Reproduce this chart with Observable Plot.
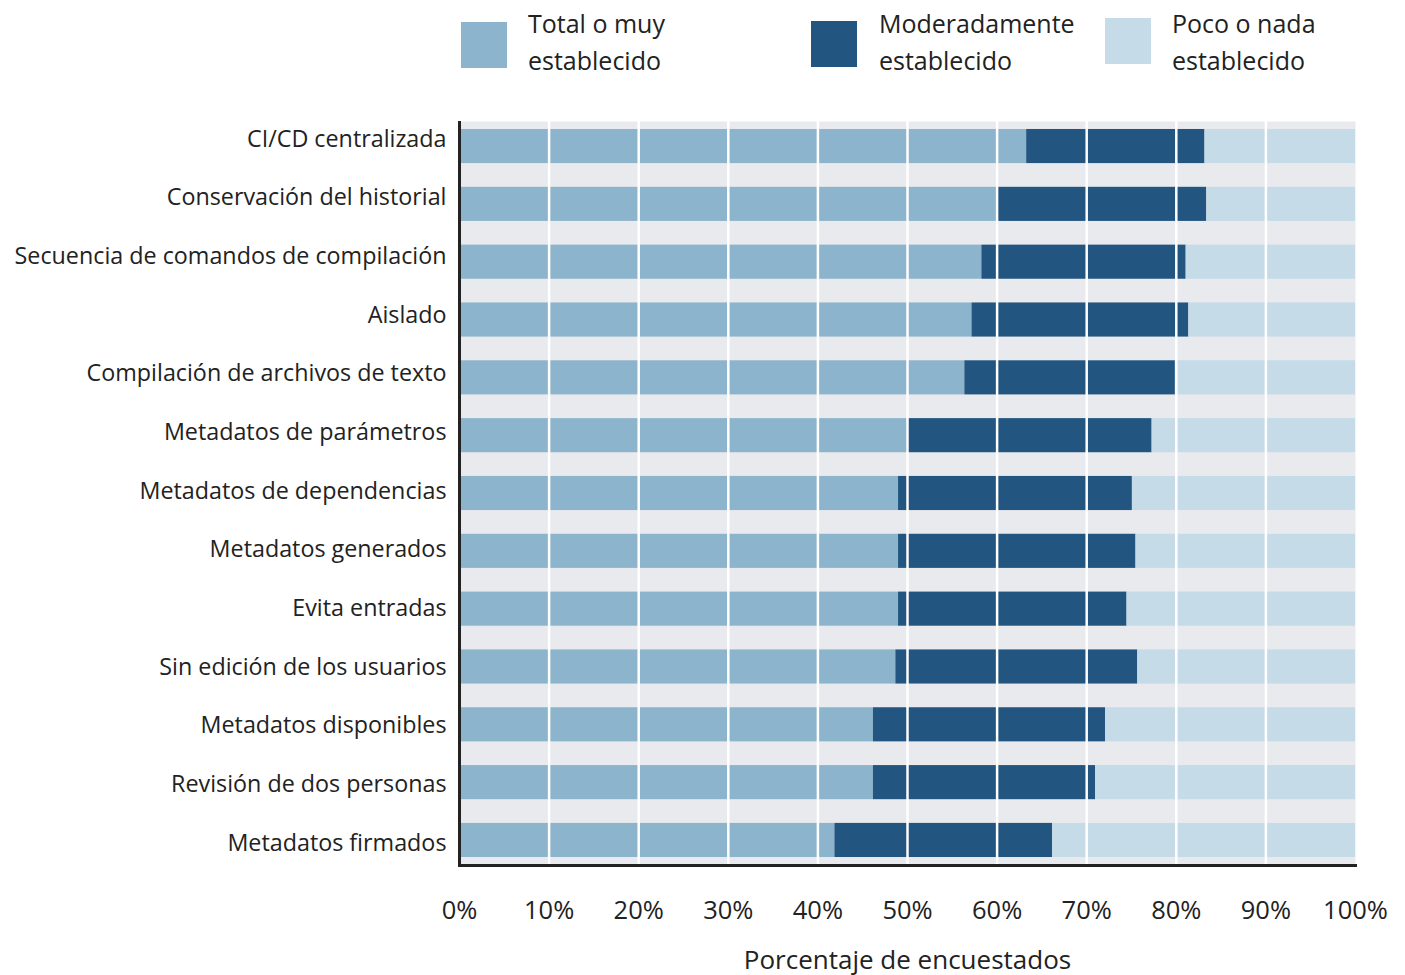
<!DOCTYPE html>
<html>
<head>
<meta charset="utf-8">
<script src="https://cdn.jsdelivr.net/npm/d3@7"></script>
<script src="https://cdn.jsdelivr.net/npm/@observablehq/plot@0.6"></script>
<style>
  body { margin: 0; background: #fff; font-family: "Open Sans", Roboto, sans-serif; }
  #wrap { position: relative; width: 1405px; height: 975px; }
  .sw { position: absolute; width: 46px; height: 46px; }
  .lt { position: absolute; font-size: 25px; line-height: 37px; color: #222; white-space: nowrap; }
</style>
</head>
<body>
<div id="wrap"></div>
<script>
const categories = [
  "CI/CD centralizada",
  "Conservación del historial",
  "Secuencia de comandos de compilación",
  "Aislado",
  "Compilación de archivos de texto",
  "Metadatos de parámetros",
  "Metadatos de dependencias",
  "Metadatos generados",
  "Evita entradas",
  "Sin edición de los usuarios",
  "Metadatos disponibles",
  "Revisión de dos personas",
  "Metadatos firmados"
];
const seriesNames = ["Total o muy establecido", "Moderadamente establecido", "Poco o nada establecido"];
const totalMuy    = [63.3, 60.1, 58.3, 57.2, 56.4, 50.1, 49.0, 49.0, 49.0, 48.7, 46.2, 46.2, 41.9];
const moderado    = [19.9, 23.3, 22.8, 24.2, 23.5, 27.2, 26.1, 26.5, 25.5, 27.0, 25.9, 24.8, 24.3];
const pocoNada    = [16.8, 16.6, 18.9, 18.6, 20.1, 22.7, 24.9, 24.5, 25.5, 24.3, 27.9, 29.0, 33.8];
const xTicks = [0, 10, 20, 30, 40, 50, 60, 70, 80, 90, 100];
const colors = ["#8cb4cc", "#22557f", "#c5dbe7"];

const seriesValues = [totalMuy, moderado, pocoNada];
const data = [];
categories.forEach((c, i) => {
  seriesValues.forEach((vals, s) => data.push({category: c, series: seriesNames[s], value: vals[i]}));
});

const FONT = "'Open Sans', Roboto, sans-serif";
const chart = Plot.plot({
  width: 1405,
  height: 975,
  marginTop: 121,
  marginBottom: 110,
  marginLeft: 459,
  marginRight: 50,
  style: {fontFamily: FONT, color: "#222", background: "#fff"},
  x: {domain: [0, 100]},
  y: {domain: categories, paddingInner: 0.41, paddingOuter: 0.138, round: false},
  color: {domain: seriesNames, range: colors},
  marks: [
    Plot.frame({fill: "#e9eaee", stroke: null}),
    Plot.barX(data, Plot.stackX({y: "category", x: "value", fill: "series", order: null})),
    Plot.ruleX(xTicks.slice(1, -1), {stroke: "#fff", strokeWidth: 2.5}),
    Plot.axisX({ticks: xTicks, tickFormat: d => d + "%", tickSize: 0, tickPadding: 35, fontSize: 25.5,
      label: "Porcentaje de encuestados", labelAnchor: "center", labelArrow: "none", labelOffset: 103}),
    Plot.axisY({tickSize: 0, tickPadding: 13, fontSize: 23.3, label: null}),
    Plot.ruleX([0], {stroke: "#222", strokeWidth: 3}),
    Plot.frame({anchor: "bottom", stroke: "#222", strokeWidth: 3})
  ]
});
chart.querySelectorAll("text").forEach(t => t.setAttribute("fill", "#222"));
chart.querySelectorAll('g[aria-label="x-axis label"] text').forEach(t => t.setAttribute("font-size", 26));
// y tick labels: slightly wider spacing than bars, as in the original
chart.querySelectorAll('g[aria-label="y-axis tick label"] text').forEach((t, i) => {
  const tr = t.getAttribute("transform") || "";
  t.setAttribute("transform", tr + ` translate(0,${(-7.5 + 0.84 * i).toFixed(2)})`);
});
const wrap = document.getElementById("wrap");
wrap.appendChild(chart);

const swatchPos = [[461, 22], [811, 21], [1105, 18]];
const textX = [528, 879, 1172];
const legendText = [["Total o muy", "establecido"], ["Moderadamente", "establecido"], ["Poco o nada", "establecido"]];
seriesNames.forEach((s, i) => {
  const sw = document.createElement("div");
  sw.className = "sw";
  sw.style.left = swatchPos[i][0] + "px";
  sw.style.top = swatchPos[i][1] + "px";
  sw.style.background = colors[i];
  wrap.appendChild(sw);
  const t = document.createElement("div");
  t.className = "lt";
  t.style.left = textX[i] + "px";
  t.style.top = "5px";
  t.innerHTML = `${legendText[i][0]}<br>${legendText[i][1]}`;
  wrap.appendChild(t);
});
</script>
</body>
</html>
